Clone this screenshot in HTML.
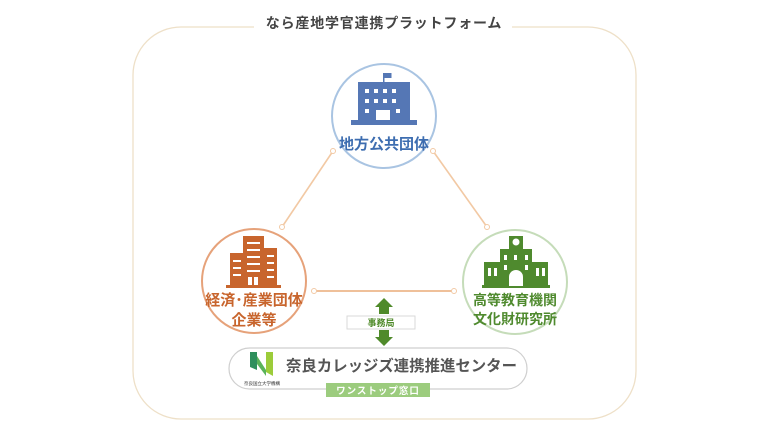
<!DOCTYPE html>
<html><head><meta charset="utf-8"><style>
html,body{margin:0;padding:0;background:#fff;}
svg{display:block;font-family:"Liberation Sans","Noto Sans CJK JP",sans-serif;}
</style></head><body>
<svg width="768" height="432" viewBox="0 0 768 432" xmlns="http://www.w3.org/2000/svg">
<rect x="133" y="27" width="503" height="392" rx="48" fill="none" stroke="#eee0c8" stroke-width="1.3"/>
<rect x="254" y="14" width="258" height="20" fill="#fff"/>
<text x="384" y="28" text-anchor="middle" font-size="14" font-weight="bold" fill="#444" letter-spacing="0.8">なら産地学官連携プラットフォーム</text>

<g stroke="#f2c9a4" stroke-width="1.6" fill="#fff">
<line x1="333" y1="151" x2="282" y2="227"/>
<line x1="433" y1="151" x2="487" y2="227"/>
<line x1="314" y1="291" x2="454" y2="291" stroke="#efc09a" stroke-width="2"/>
<circle cx="333" cy="151" r="2.5" stroke-width="1"/>
<circle cx="282" cy="227" r="2.5" stroke-width="1"/>
<circle cx="433" cy="151" r="2.5" stroke-width="1"/>
<circle cx="487" cy="227" r="2.5" stroke-width="1"/>
<circle cx="314" cy="291" r="2.5" stroke-width="1"/>
<circle cx="454" cy="291" r="2.5" stroke-width="1"/>
</g>

<circle cx="384" cy="116" r="52" fill="#fff" stroke="#a9c4e2" stroke-width="2"/>
<g fill="#5577b5">
<rect x="383" y="73" width="1.5" height="10"/>
<rect x="384.5" y="73" width="7" height="5"/>
<rect x="358" y="82" width="52" height="42"/>
<rect x="351" y="120" width="66" height="5"/>
</g>
<g fill="#fff">
<rect x="365" y="89" width="4" height="4"/><rect x="374" y="89" width="4" height="4"/><rect x="383" y="89" width="4" height="4"/><rect x="392" y="89" width="4" height="4"/>
<rect x="365" y="99" width="4" height="4"/><rect x="374" y="99" width="4" height="4"/><rect x="383" y="99" width="4" height="4"/><rect x="392" y="99" width="4" height="4"/>
<rect x="365" y="109" width="4" height="4"/><rect x="396" y="109" width="4" height="4"/>
<rect x="376" y="110" width="14" height="10"/>
</g>
<text x="384" y="149" text-anchor="middle" font-size="15" font-weight="bold" fill="#3d6db0">地方公共団体</text>

<circle cx="254" cy="281" r="52" fill="#fff" stroke="#e6a27a" stroke-width="2"/>
<g fill="#c8652d">
<rect x="243" y="236" width="21" height="50"/>
<rect x="230" y="253" width="14" height="33"/>
<rect x="264" y="248" width="13" height="38"/>
<rect x="226" y="285" width="55" height="3"/>
</g>
<g fill="#fff">
<rect x="247" y="242" width="13" height="2"/><rect x="247" y="249" width="13" height="2"/><rect x="247" y="256" width="13" height="2"/><rect x="247" y="263" width="13" height="2"/><rect x="247" y="270" width="13" height="2"/>
<rect x="233" y="260" width="8" height="2"/><rect x="233" y="267" width="8" height="2"/><rect x="233" y="274" width="8" height="2"/>
<rect x="267" y="255" width="7" height="2"/><rect x="267" y="262" width="7" height="2"/><rect x="267" y="269" width="7" height="2"/><rect x="267" y="276" width="7" height="2"/>
<rect x="248" y="277" width="4" height="8"/><rect x="254" y="277" width="4" height="8"/>
</g>
<text x="254" y="305" text-anchor="middle" font-size="15" font-weight="bold" fill="#c8652d">経済･産業団体</text>
<text x="254" y="325" text-anchor="middle" font-size="15" font-weight="bold" fill="#c8652d">企業等</text>

<circle cx="515" cy="282" r="52" fill="#fff" stroke="#c5dcb9" stroke-width="2"/>
<g fill="#4f8a2e">
<rect x="509" y="236" width="14" height="14"/>
<rect x="500" y="249" width="32" height="37"/>
<rect x="484" y="262" width="17" height="24"/>
<rect x="531" y="262" width="17" height="24"/>
<rect x="482" y="285" width="68" height="3"/>
</g>
<circle cx="516" cy="242" r="3.5" fill="#fff"/>
<g fill="#fff">
<rect x="504" y="255" width="3" height="5"/><rect x="514" y="255" width="3" height="5"/><rect x="525" y="255" width="3" height="5"/>
<rect x="504" y="265" width="3" height="5"/><rect x="525" y="265" width="3" height="5"/>
<rect x="488" y="268" width="3" height="8"/><rect x="494" y="268" width="3" height="8"/>
<rect x="536" y="268" width="3" height="8"/><rect x="542" y="268" width="3" height="8"/>
<path d="M509 286 V277 A7 7 0 0 1 523 277 V286 Z"/>
</g>
<text x="515" y="305" text-anchor="middle" font-size="14" font-weight="bold" fill="#4f8a2e">高等教育機関</text>
<text x="515" y="324" text-anchor="middle" font-size="14" font-weight="bold" fill="#4f8a2e">文化財研究所</text>

<g fill="#4f8a2a">
<path d="M384 298 L393 307 L389 307 L389 314 L379 314 L379 307 L375 307 Z"/>
<path d="M384 346 L393 337 L389 337 L389 330 L379 330 L379 337 L375 337 Z"/>
</g>
<rect x="347" y="316" width="68" height="13" fill="#fff" stroke="#d9d9d9" stroke-width="1"/>
<text x="381" y="326" text-anchor="middle" font-size="9" font-weight="bold" fill="#4f8a2a">事務局</text>

<rect x="229" y="348" width="298" height="41" rx="20.5" fill="#fff" stroke="#cfcfcf" stroke-width="1.2"/>
<path d="M250 352 L257 352 L257 370 L250 367 Z" fill="#2e8f5c"/>
<path d="M257 356 L266 370 L266 376 L257 364 Z" fill="#5ab35a"/>
<path d="M266 352 L273 352 L273 376 L266 372 Z" fill="#9ccc3a"/>
<text x="244" y="385" font-size="4.5" fill="#333">奈良国立大学機構</text>
<text x="286" y="371" font-size="15.4" font-weight="bold" fill="#555" textLength="231" lengthAdjust="spacingAndGlyphs">奈良カレッジズ連携推進センター</text>
<rect x="326" y="383" width="104" height="14" fill="#9ccc7e"/>
<text x="378" y="394" text-anchor="middle" font-size="9.5" font-weight="bold" fill="#fff" letter-spacing="1">ワンストップ窓口</text>
</svg>
</body></html>
